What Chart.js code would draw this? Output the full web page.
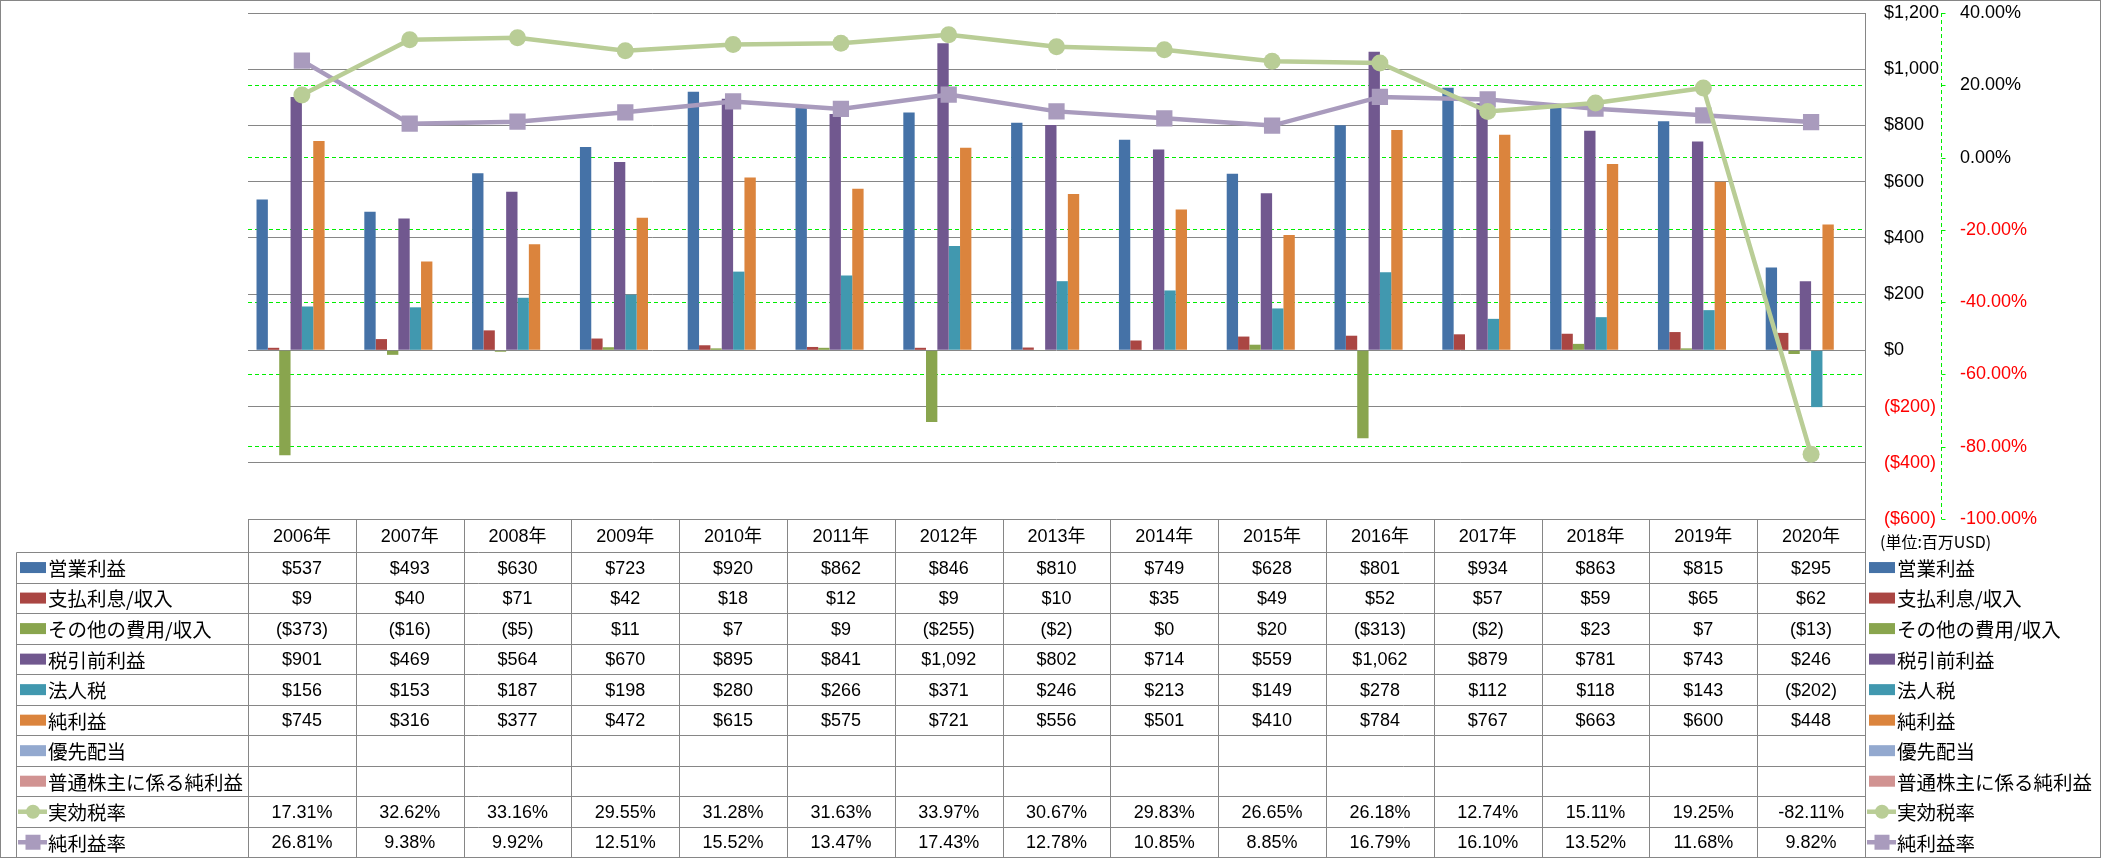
<!DOCTYPE html>
<html><head><meta charset="utf-8">
<script src="https://cdn.jsdelivr.net/npm/chart.js@4"></script>
<style>html,body{margin:0;padding:0;background:#fff;}canvas{display:block;}</style>
</head><body>
<canvas id="c" width="2101" height="858"></canvas>
<script>
const years = ['2006年','2007年','2008年','2009年','2010年','2011年','2012年','2013年','2014年','2015年','2016年','2017年','2018年','2019年','2020年'];
const operatingIncome = [537,493,630,723,920,862,846,810,749,628,801,934,863,815,295];
const interestExpense = [9,40,71,42,18,12,9,10,35,49,52,57,59,65,62];
const otherExpense = [-373,-16,-5,11,7,9,-255,-2,0,20,-313,-2,23,7,-13];
const pretaxIncome = [901,469,564,670,895,841,1092,802,714,559,1062,879,781,743,246];
const incomeTax = [156,153,187,198,280,266,371,246,213,149,278,112,118,143,-202];
const netIncome = [745,316,377,472,615,575,721,556,501,410,784,767,663,600,448];
const preferredDividends = [null,null,null,null,null,null,null,null,null,null,null,null,null,null,null];
const commonNetIncome = [null,null,null,null,null,null,null,null,null,null,null,null,null,null,null];
const effectiveTaxRate = [17.31,32.62,33.16,29.55,31.28,31.63,33.97,30.67,29.83,26.65,26.18,12.74,15.11,19.25,-82.11];
const netMargin = [26.81,9.38,9.92,12.51,15.52,13.47,17.43,12.78,10.85,8.85,16.79,16.10,13.52,11.68,9.82];
const usdTicks = {min:-600, max:1200, step:200};
const pctTicks = {min:-100, max:40, step:20};

const names = ['営業利益','支払利息/収入','その他の費用/収入','税引前利益','法人税','純利益','優先配当','普通株主に係る純利益','実効税率','純利益率'];
const colors = ['#4572A7','#AA4643','#89A54E','#71588F','#4198AF','#DB843D','#93A9CF','#D19392','#B9CD96','#A99BBD'];
const rowValues = [operatingIncome,interestExpense,otherExpense,pretaxIncome,incomeTax,netIncome,preferredDividends,commonNetIncome,effectiveTaxRate,netMargin];
const rowKinds = ['usd','usd','usd','usd','usd','usd','usd','usd','pct','pct'];
const keyKinds = ['bar','bar','bar','bar','bar','bar','bar','bar','circle','rect'];

function fmtUsd(v){ if(v===null||v===undefined) return ''; const s='$'+Math.abs(v).toLocaleString('en-US'); return v<0?'('+s+')':s; }
function fmtPct(v){ if(v===null||v===undefined) return ''; return v.toFixed(2)+'%'; }

const NUMFONT = '18px "Liberation Sans", Arial, "Noto Sans CJK JP", sans-serif';
const JPFONT = '19.5px "Noto Sans CJK JP", sans-serif';

function drawKey(ctx, kind, color, x0, x1, yc){
  ctx.save();
  if(kind==='bar'){
    ctx.fillStyle=color; ctx.fillRect(x0, yc-5.5, x1-x0, 11);
  } else {
    ctx.strokeStyle=color; ctx.lineWidth=4.5; ctx.beginPath(); ctx.moveTo(x0-2,yc); ctx.lineTo(x1+1,yc); ctx.stroke();
    ctx.fillStyle=color; const cx=(x0+x1)/2;
    if(kind==='circle'){ ctx.beginPath(); ctx.arc(cx,yc,7,0,Math.PI*2); ctx.fill(); }
    else { ctx.fillRect(cx-7.5,yc-7.5,15,15); }
  }
  ctx.restore();
}

const tablePlugin = {
  id:'dataTable',
  afterDraw(chart){
    const ctx=chart.ctx, area=chart.chartArea, xs=chart.scales.x, y2=chart.scales.y2;
    const n=years.length, colW=(area.right-area.left)/n;
    const top=area.bottom, headerBottom=top+33.3, rowH=(857.5-headerBottom)/names.length;
    const labelLeft=16.5;
    const px=v=>Math.round(v)+0.5;
    ctx.save();
    // secondary axis line (dashed green) and ticks
    ctx.strokeStyle='#00EE00'; ctx.lineWidth=1; ctx.setLineDash([4,3]);
    ctx.beginPath(); ctx.moveTo(px(y2.left), area.top); ctx.lineTo(px(y2.left), area.bottom); ctx.stroke();
    ctx.setLineDash([]);
    y2.ticks.forEach((t,i)=>{ const yy=px(y2.getPixelForTick(i)); ctx.beginPath(); ctx.moveTo(px(y2.left),yy); ctx.lineTo(px(y2.left)+4,yy); ctx.stroke(); });
    // table grid
    ctx.strokeStyle='#868686'; ctx.lineWidth=1;
    ctx.beginPath();
    for(let r=0;r<=names.length;r++){ const yy=px(headerBottom+r*rowH); ctx.moveTo(labelLeft,yy); ctx.lineTo(px(area.right),yy); }
    for(let k=0;k<=n;k++){ const xx=px(area.left+k*colW); ctx.moveTo(xx,px(top)); ctx.lineTo(xx,858); }
    ctx.moveTo(labelLeft,px(headerBottom)); ctx.lineTo(labelLeft,858);
    ctx.stroke();
    // outer border
    ctx.strokeRect(0.5,0.5,2100,857);
    // header text
    ctx.fillStyle='#000'; ctx.textAlign='center'; ctx.textBaseline='middle';
    ctx.font=NUMFONT;
    years.forEach((y,i)=>{ ctx.fillText(y, xs.getPixelForValue(i), (top+headerBottom)/2+1); });
    // rows
    names.forEach((nm,r)=>{
      const yc=headerBottom+(r+0.5)*rowH+1;
      ctx.font=NUMFONT; ctx.textAlign='center'; ctx.fillStyle='#000';
      rowValues[r].forEach((v,i)=>{ const s=rowKinds[r]==='usd'?fmtUsd(v):fmtPct(v); ctx.fillText(s, xs.getPixelForValue(i), yc); });
      drawKey(ctx,keyKinds[r],colors[r],20,46,yc-1);
      ctx.font=JPFONT; ctx.textAlign='left'; ctx.fillStyle='#000';
      ctx.fillText(nm,48,yc);
      drawKey(ctx,keyKinds[r],colors[r],1869,1895,yc-1);
      ctx.fillText(nm,1897,yc);
    });
    ctx.font='16px "Noto Sans CJK JP", sans-serif'; ctx.textAlign='left';
    ctx.fillText('(単位:百万USD)',1880,542);
    ctx.restore();
  }
};

const barDs = (i,data)=>({type:'bar',label:names[i],data,backgroundColor:colors[i],borderWidth:0,yAxisID:'y',order:1,categoryPercentage:0.842,barPercentage:1.0});
const datasets=[
  barDs(0,operatingIncome),barDs(1,interestExpense),barDs(2,otherExpense),barDs(3,pretaxIncome),
  barDs(4,incomeTax),barDs(5,netIncome),barDs(6,preferredDividends),barDs(7,commonNetIncome),
  {type:'line',label:names[8],data:effectiveTaxRate,yAxisID:'y2',order:0,borderColor:colors[8],backgroundColor:colors[8],borderWidth:4.5,pointStyle:'circle',pointRadius:8.5,pointBorderWidth:0,pointBackgroundColor:colors[8],tension:0},
  {type:'line',label:names[9],data:netMargin,yAxisID:'y2',order:0,borderColor:colors[9],backgroundColor:colors[9],borderWidth:4.5,pointStyle:'rect',pointRadius:11.5,pointBorderWidth:0,pointBackgroundColor:colors[9],tension:0}
];

new Chart(document.getElementById('c'),{
  type:'bar',
  data:{labels:years,datasets},
  plugins:[tablePlugin],
  options:{
    responsive:false, animation:false,
    layout:{padding:{left:248,top:13,right:0,bottom:339}},
    plugins:{legend:{display:false},tooltip:{enabled:false}},
    scales:{
      x:{display:false, offset:true},
      y:{position:'right', weight:1, min:usdTicks.min, max:usdTicks.max,
         afterFit(s){s.width=76;},
         ticks:{stepSize:usdTicks.step, padding:0, font:{family:'"Liberation Sans", Arial, sans-serif', size:18},
           color:c=>c.tick.value<0?'#FF0000':'#000000', callback:v=>fmtUsd(v)},
         grid:{color:'#868686', lineWidth:1, drawTicks:true, tickLength:19, tickColor:'rgba(0,0,0,0)'},
         border:{display:true,color:'#868686',width:1}},
      y2:{position:'right', weight:2, min:pctTicks.min, max:pctTicks.max,
         afterFit(s){s.width=160;},
         ticks:{stepSize:pctTicks.step, padding:0, font:{family:'"Liberation Sans", Arial, sans-serif', size:18},
           color:c=>c.tick.value<0?'#FF0000':'#000000', callback:v=>fmtPct(v)},
         grid:{color:c=>(c.tick&&(c.tick.value===40||c.tick.value===-100))?'rgba(0,0,0,0)':'#00EE00', lineWidth:1, drawTicks:true, tickLength:19, tickColor:'rgba(0,0,0,0)'},
         border:{display:false,dash:[4,3]}}
    }
  }
});
</script>
</body></html>
